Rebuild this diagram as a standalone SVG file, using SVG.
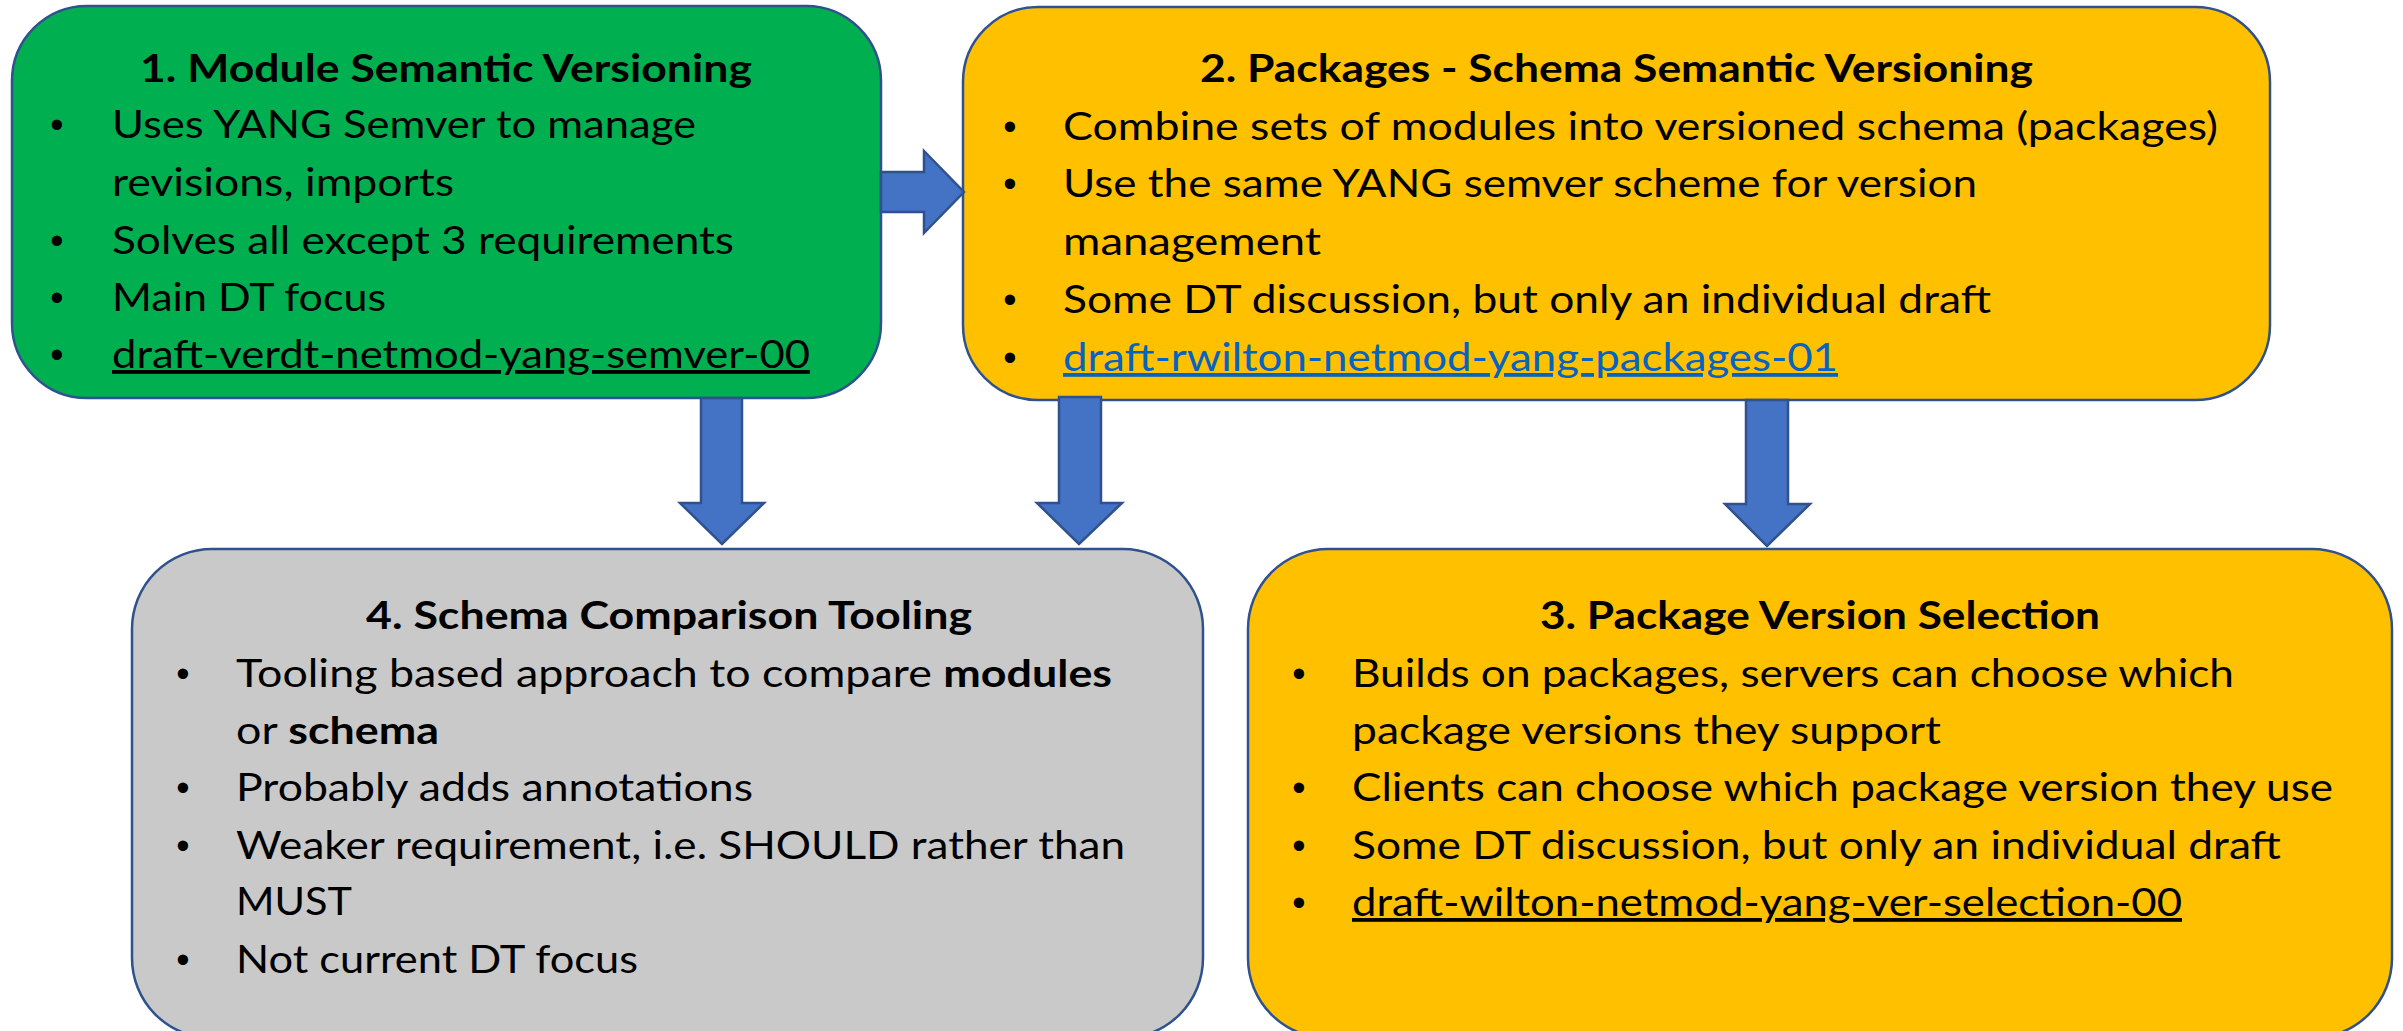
<svg xmlns="http://www.w3.org/2000/svg" width="2403" height="1031" viewBox="0 0 2403 1031">
<style>
.box{stroke:#2F528F;stroke-width:2.5}
.green{fill:#00B050}
.amber{fill:#FFC000}
.grey{fill:#C9C9C9}
.arrow{fill:#4472C4;stroke:#2F528F;stroke-width:2.5;stroke-linejoin:miter}
.t{font-family:Lato,"Open Sans","DejaVu Sans",sans-serif;font-size:39px;font-weight:bold;fill:#000}
.b{font-family:Lato,"Open Sans","DejaVu Sans",sans-serif;font-size:38px;fill:#000}
.dot{font-family:"Liberation Sans",Arial,sans-serif;font-size:38px;fill:#000;text-anchor:middle}
.u{text-decoration:underline}
.link{fill:#0563C1;text-decoration:underline}
.bold{font-weight:bold}
</style>
<rect width="2403" height="1031" fill="#FFFFFF"/>

<g id="node1">
<rect class="box green" x="12" y="6" width="869" height="392" rx="75" ry="75"/>
<text class="t" x="140" y="82" textLength="612" lengthAdjust="spacingAndGlyphs">1. Module Semantic Versioning</text>
<text class="dot" x="57" y="138">•</text>
<text class="dot" x="57" y="254">•</text>
<text class="dot" x="57" y="311">•</text>
<text class="dot" x="57" y="368">•</text>
<text class="b" x="112" y="138" textLength="584" lengthAdjust="spacingAndGlyphs">Uses YANG Semver to manage</text>
<text class="b" x="112" y="196" textLength="342" lengthAdjust="spacingAndGlyphs">revisions, imports</text>
<text class="b" x="112" y="254" textLength="622" lengthAdjust="spacingAndGlyphs">Solves all except 3 requirements</text>
<text class="b" x="112" y="311" textLength="274" lengthAdjust="spacingAndGlyphs">Main DT focus</text>
<text class="b u" x="112" y="368" textLength="698" lengthAdjust="spacingAndGlyphs">draft-verdt-netmod-yang-semver-00</text>
</g>

<g id="node2">
<rect class="box amber" x="963" y="7" width="1307" height="393" rx="75" ry="75"/>
<text class="t" x="1200" y="82" textLength="833" lengthAdjust="spacingAndGlyphs">2. Packages - Schema Semantic Versioning</text>
<text class="dot" x="1010" y="140">•</text>
<text class="dot" x="1010" y="197">•</text>
<text class="dot" x="1010" y="313">•</text>
<text class="dot" x="1010" y="371">•</text>
<text class="b" x="1063" y="140" textLength="1155" lengthAdjust="spacingAndGlyphs">Combine sets of modules into versioned schema (packages)</text>
<text class="b" x="1063" y="197" textLength="914" lengthAdjust="spacingAndGlyphs">Use the same YANG semver scheme for version</text>
<text class="b" x="1063" y="255" textLength="258" lengthAdjust="spacingAndGlyphs">management</text>
<text class="b" x="1063" y="313" textLength="928" lengthAdjust="spacingAndGlyphs">Some DT discussion, but only an individual draft</text>
<text class="b link" x="1063" y="371" textLength="775" lengthAdjust="spacingAndGlyphs">draft-rwilton-netmod-yang-packages-01</text>
</g>

<g id="node4">
<rect class="box grey" x="132" y="549" width="1071" height="489" rx="80" ry="80"/>
<text class="t" x="366" y="629" textLength="606" lengthAdjust="spacingAndGlyphs">4. Schema Comparison Tooling</text>
<text class="dot" x="183" y="687">•</text>
<text class="dot" x="183" y="801">•</text>
<text class="dot" x="183" y="859">•</text>
<text class="dot" x="183" y="973">•</text>
<text class="b" x="236" y="687" textLength="876" lengthAdjust="spacingAndGlyphs">Tooling based approach to compare <tspan class="bold">modules</tspan></text>
<text class="b" x="236" y="744" textLength="203" lengthAdjust="spacingAndGlyphs">or <tspan class="bold">schema</tspan></text>
<text class="b" x="236" y="801" textLength="517" lengthAdjust="spacingAndGlyphs">Probably adds annotations</text>
<text class="b" x="236" y="859" textLength="889" lengthAdjust="spacingAndGlyphs">Weaker requirement, i.e. SHOULD rather than</text>
<text class="b" x="236" y="915" textLength="116" lengthAdjust="spacingAndGlyphs">MUST</text>
<text class="b" x="236" y="973" textLength="402" lengthAdjust="spacingAndGlyphs">Not current DT focus</text>
</g>

<g id="node3">
<rect class="box amber" x="1248" y="549" width="1144" height="489" rx="80" ry="80"/>
<text class="t" x="1540" y="629" textLength="560" lengthAdjust="spacingAndGlyphs">3. Package Version Selection</text>
<text class="dot" x="1299" y="687">•</text>
<text class="dot" x="1299" y="801">•</text>
<text class="dot" x="1299" y="859">•</text>
<text class="dot" x="1299" y="916">•</text>
<text class="b" x="1352" y="687" textLength="882" lengthAdjust="spacingAndGlyphs">Builds on packages, servers can choose which</text>
<text class="b" x="1352" y="744" textLength="589" lengthAdjust="spacingAndGlyphs">package versions they support</text>
<text class="b" x="1352" y="801" textLength="981" lengthAdjust="spacingAndGlyphs">Clients can choose which package version they use</text>
<text class="b" x="1352" y="859" textLength="929" lengthAdjust="spacingAndGlyphs">Some DT discussion, but only an individual draft</text>
<text class="b u" x="1352" y="916" textLength="830" lengthAdjust="spacingAndGlyphs">draft-wilton-netmod-yang-ver-selection-00</text>
</g>

<g id="connectors">
<polygon class="arrow" points="881,172 924,172 924,151 964,192 924,233 924,212 881,212"/>
<polygon class="arrow" points="701,398 742,398 742,503 764,503 722,544 680,503 701,503"/>
<polygon class="arrow" points="1059,397 1101,397 1101,503 1122,503 1079,544 1037,503 1059,503"/>
<polygon class="arrow" points="1746,400 1788,400 1788,504 1810,504 1767,546 1725,504 1746,504"/>
</g>
</svg>
